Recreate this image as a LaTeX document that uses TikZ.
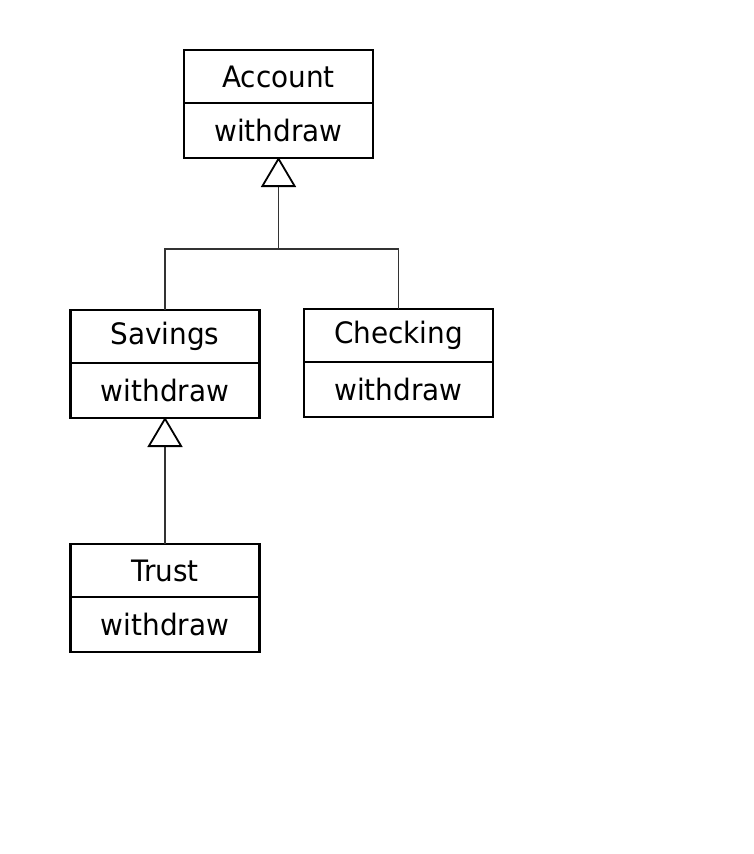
\documentclass[tikz,border=0pt]{standalone}
\usepackage{fontspec}
\setmainfont{DejaVu Sans}[FakeStretch=0.945]
\usetikzlibrary{arrows.meta,positioning}
\tikzset{
  namebox/.style={draw=black, line width=2.6pt, minimum width=189pt, minimum height=53pt, inner sep=0pt, outer sep=0pt, font=\fontsize{29.5}{32}\selectfont, anchor=north},
  methbox/.style={draw=black, line width=2.6pt, minimum width=189pt, minimum height=55pt, inner sep=0pt, outer sep=0pt, font=\fontsize{29.5}{32}\selectfont, anchor=north},
  conn/.style={draw=black!80, line width=1.3pt},
  inherit/.style={conn, -{Triangle[open, length=30pt, width=35pt, line width=1.8pt, color=black]}, shorten >=-1pt}
}
\begin{document}
\begin{tikzpicture}[x=1pt, y=-1pt]
\useasboundingbox (0,0) rectangle (754,854);
\node[namebox] (acc) at (278.5,50) {Account};
\node[methbox, below=0pt of acc] (accm) {withdraw};
\node[namebox] (sav) at (165,310) {Savings};
\node[methbox, below=0pt of sav] (savm) {withdraw};
\node[namebox] (chk) at (398.5,309) {Checking};
\node[methbox, below=0pt of chk] (chkm) {withdraw};
\node[namebox] (tru) at (165,544) {Trust};
\node[methbox, below=0pt of tru] (trum) {withdraw};
\coordinate (jc) at (278.5,249);
\draw[conn] (sav.north) |- (jc) -| (chk.north);
\draw[inherit] (jc) -- (accm.south);
\draw[inherit] (tru.north) -- (savm.south);
\end{tikzpicture}
\end{document}
